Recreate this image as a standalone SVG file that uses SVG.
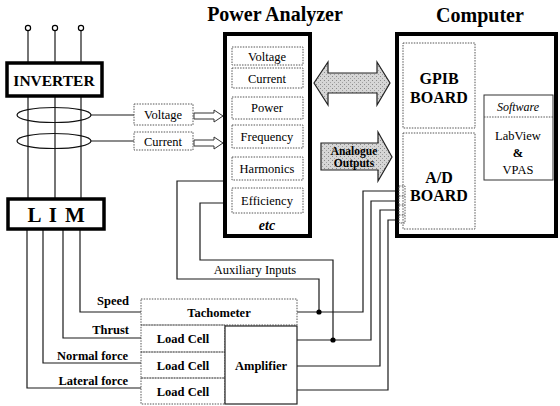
<svg xmlns="http://www.w3.org/2000/svg" width="560" height="406" viewBox="0 0 560 406">
<defs>
<pattern id="stip" width="4" height="4" patternUnits="userSpaceOnUse">
<rect width="4" height="4" fill="#d6d6d6"/>
<rect x="0" y="0" width="1" height="1" fill="#8a8a8a"/>
<rect x="2" y="2" width="1" height="1" fill="#a0a0a0"/>
</pattern>
<style>
.ln{stroke:#1a1a1a;stroke-width:1.2;fill:none}
.thick{stroke:#000;stroke-width:3.5;fill:#fff}
.dt{stroke:#555;stroke-width:1;stroke-dasharray:1.5 1.2;fill:none}
.sol{stroke:#222;stroke-width:1.2;fill:#fff}
.t{font-family:"Liberation Serif",serif;fill:#000;text-anchor:middle}
.b{font-weight:bold}
.r{text-anchor:end}
.s12{font-size:12.5px}
.s16{font-size:16px}
.s20{font-size:20px}
</style>
</defs>
<rect width="560" height="406" fill="#fff"/>

<g id="connectors">
<path class="ln" d="M28,31V62M55,31V62M81,31V62"/>
<path class="ln" d="M28,97V198M55,97V198M81,97V198"/>
<path class="ln" d="M91,115H134M91,141H134"/>
<path class="ln" d="M80,230V312H141M63,230V338H141M43,230V363H141M27,230V388H141"/>
<path class="ln" d="M225,181H177V279H319V312"/>
<path class="ln" d="M225,203H200V260H333V340"/>
<path class="ln" d="M297,312H363V191H399"/>
<path class="ln" d="M297,340H371V201H399"/>
<path class="ln" d="M297,366H380V210H399"/>
<path class="ln" d="M297,390H388V220H399"/>
<circle cx="319" cy="312" r="2.6" fill="#000"/>
<circle cx="333" cy="340" r="2.6" fill="#000"/>
<path d="M194,113H214V110L223,116L214,122V119H194Z" fill="#fff" stroke="#333" stroke-width="1"/>
<path d="M194,140H214V137L223,143L214,149V146H194Z" fill="#fff" stroke="#333" stroke-width="1"/>
<path d="M314,83L328,62V73H377V62L390,83L377,105V93H328V105Z" fill="url(#stip)" stroke="#222" stroke-width="1.2"/>
<path d="M321,143H378V132L392,157L378,181V170H321Z" fill="url(#stip)" stroke="#222" stroke-width="1.2"/>
</g>

<g id="terminals">
<circle cx="28" cy="28" r="2.6" fill="#fff" stroke="#000" stroke-width="1.2"/>
<circle cx="55" cy="28" r="2.6" fill="#fff" stroke="#000" stroke-width="1.2"/>
<circle cx="81" cy="28" r="2.6" fill="#fff" stroke="#000" stroke-width="1.2"/>
</g>

<g id="inverter">
<rect class="thick" x="7" y="63" width="95" height="33"/>
<text class="t b" x="54" y="86" style="font-size:15.5px">INVERTER</text>
</g>

<g id="ct">
<ellipse cx="54" cy="115" rx="37" ry="7.5" fill="none" stroke="#111" stroke-width="1.2"/>
<ellipse cx="54" cy="141" rx="37" ry="7.5" fill="none" stroke="#111" stroke-width="1.2"/>
</g>

<g id="lim">
<rect class="thick" x="8" y="199" width="96" height="30"/>
<text class="t b" x="57" y="222" style="font-size:21px;letter-spacing:1.5px">L I M</text>
</g>

<g id="vc-boxes">
<rect class="dt" x="134" y="104" width="59" height="21"/>
<text class="t s12" x="163" y="119">Voltage</text>
<rect class="dt" x="134" y="132" width="59" height="18"/>
<text class="t s12" x="163" y="146">Current</text>
</g>

<g id="power-analyzer">
<text class="t b s20" x="275" y="21">Power Analyzer</text>
<rect x="225" y="34" width="85" height="202" fill="#fff" stroke="#000" stroke-width="4"/>
<rect class="dt" x="232" y="47" width="71" height="18"/>
<text class="t s12" x="267" y="61">Voltage</text>
<rect class="dt" x="232" y="68" width="71" height="20"/>
<text class="t s12" x="267" y="83">Current</text>
<rect class="dt" x="232" y="97" width="71" height="22"/>
<text class="t s12" x="267" y="112">Power</text>
<rect class="dt" x="232" y="125" width="71" height="23"/>
<text class="t s12" x="267" y="141">Frequency</text>
<rect class="dt" x="232" y="157" width="71" height="23"/>
<text class="t s12" x="267" y="173">Harmonics</text>
<rect class="dt" x="232" y="188" width="71" height="25"/>
<text class="t s12" x="267" y="205">Efficiency</text>
<text class="t b" x="267" y="230" style="font-size:14px;font-style:italic">etc</text>
</g>

<g id="computer">
<text class="t b s20" x="480" y="22">Computer</text>
<rect x="397" y="34" width="159" height="202" fill="#fff" stroke="#000" stroke-width="4"/>
<rect class="dt" x="403" y="43" width="72" height="85"/>
<text class="t b s16" x="439" y="84">GPIB</text>
<text class="t b s16" x="439" y="103">BOARD</text>
<rect class="dt" x="403" y="133" width="72" height="96"/>
<text class="t b s16" x="439" y="183">A/D</text>
<text class="t b s16" x="439" y="201">BOARD</text>
<rect class="dt" x="399" y="186" width="6" height="37"/>
<path class="dt" d="M399,196H405M399,205H405M399,215H405"/>
<rect x="484" y="95" width="69" height="85" fill="#fff" stroke="#333" stroke-width="1"/>
<path class="dt" d="M484,117H553"/>
<text class="t" x="518" y="111" style="font-size:12px;font-style:italic">Software</text>
<text class="t s12" x="518" y="140">LabView</text>
<text class="t b s12" x="518" y="157">&amp;</text>
<text class="t s12" x="518" y="174">VPAS</text>
</g>

<g id="analogue-label">
<text class="t b" x="354" y="155" style="font-size:11.5px">Analogue</text>
<text class="t b" x="354" y="167" style="font-size:11.5px">Outputs</text>
</g>

<g id="aux-label">
<text class="t s12" x="255" y="274">Auxiliary Inputs</text>
</g>

<g id="signal-labels">
<text class="t b r s12" x="129" y="305">Speed</text>
<text class="t b r s12" x="129" y="334">Thrust</text>
<text class="t b r s12" x="128" y="360">Normal force</text>
<text class="t b r s12" x="128" y="385">Lateral force</text>
</g>

<g id="tachometer">
<rect class="dt" x="141" y="299" width="156" height="26"/>
<text class="t b s12" x="219" y="317">Tachometer</text>
</g>
<g id="load-cells">
<rect class="dt" x="141" y="325" width="84" height="27"/>
<text class="t b s12" x="183" y="343">Load Cell</text>
<rect class="dt" x="141" y="352" width="84" height="26"/>
<text class="t b s12" x="183" y="370">Load Cell</text>
<rect class="dt" x="141" y="378" width="84" height="26"/>
<text class="t b s12" x="183" y="396">Load Cell</text>
</g>
<g id="amplifier">
<rect class="sol" x="225" y="326" width="72" height="78"/>
<text class="t b s12" x="261" y="370">Amplifier</text>
</g>
</svg>
